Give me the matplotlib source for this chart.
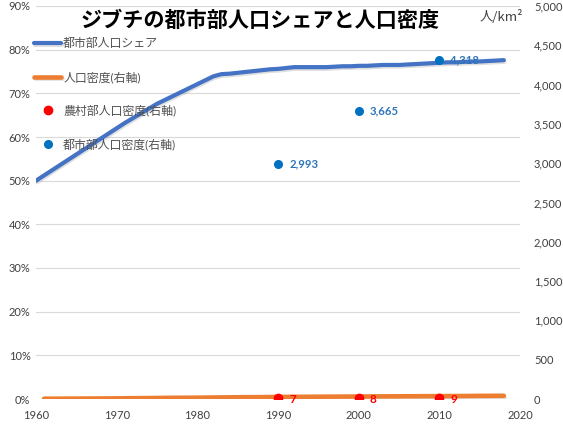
import matplotlib
matplotlib.use("Agg")
import matplotlib.pyplot as plt
import matplotlib.ticker as ticker
import matplotlib.patheffects as pe

plt.rcParams['font.family'] = ['Lato', 'Noto Sans CJK JP', 'DejaVu Sans']

# urban population share (%), 1960-2018
share_years = list(range(1960, 2019))
urban_share = [50.0, 51.2, 52.4, 53.6, 54.8, 56.0, 57.2, 58.4, 59.6, 60.8,
               62.0, 63.2, 64.3, 65.4, 66.5, 67.6, 68.5, 69.4, 70.3, 71.2,
               72.1, 73.0, 73.9, 74.4, 74.5, 74.7, 74.9, 75.1, 75.3, 75.5,
               75.6, 75.8, 76.0, 76.0, 76.0, 76.0, 76.0, 76.1, 76.2, 76.2,
               76.3, 76.3, 76.4, 76.5, 76.5, 76.5, 76.6, 76.7, 76.8, 76.9,
               77.0, 77.1, 77.1, 77.2, 77.3, 77.3, 77.4, 77.5, 77.6]

# population density (people/km2), 1961-2018
dens_years = list(range(1961, 2019))
density = [4, 4, 4, 5, 5, 6, 6, 7, 7, 8,
           9, 10, 11, 12, 13, 14, 15, 16, 16, 17,
           18, 19, 20, 21, 22, 23, 23, 24, 25, 26,
           27, 28, 28, 29, 29, 30, 30, 31, 31, 32,
           32, 33, 33, 34, 34, 35, 35, 36, 36, 37,
           37, 38, 38, 39, 40, 40, 41, 41]

# census points
census_years = [1990, 2000, 2010]
rural_density = [7, 8, 9]
urban_density = [2993, 3665, 4318]

fig = plt.figure(figsize=(5.63, 4.32), dpi=100)
ax = fig.add_axes([36 / 563, 33 / 432, 484 / 563, 393 / 432])
ax2 = ax.twinx()

shadow = [pe.SimpleLineShadow(offset=(0.5, -1.2), shadow_color='gray', alpha=0.25), pe.Normal()]

l1, = ax.plot(share_years, urban_share, color='#4472C4', lw=3, solid_capstyle='round',
              label='都市部人口シェア', path_effects=shadow, zorder=3)
l2, = ax2.plot(dens_years, density, color='#ED7D31', lw=3.3, solid_capstyle='round',
               label='人口密度(右軸)', path_effects=shadow, zorder=3)
s1, = ax2.plot(census_years, rural_density, 'o', color='#FF0000', ms=6,
               label='農村部人口密度(右軸)', zorder=4)
s2, = ax2.plot(census_years, urban_density, 'o', color='#0070C0', ms=5.5,
               label='都市部人口密度(右軸)', zorder=4)

for x, v in zip(census_years, rural_density):
    ax2.annotate(f'{v}', (x, v), xytext=(8, -1), textcoords='offset points',
                 color='#FF0000', fontsize=8.5, fontweight='bold', va='center', ha='left')
for x, v in zip(census_years, urban_density):
    ax2.annotate(f'{v:,}', (x, v), xytext=(8, 0), textcoords='offset points',
                 color='#2E75B6', fontsize=8.2, fontweight='bold', va='center', ha='left')

ax.set_xlim(1960, 2020)
ax.set_ylim(0, 90)
ax2.set_ylim(0, 5000)
ax.set_xticks(range(1960, 2021, 10))
ax.set_yticks(range(0, 91, 10))
ax2.set_yticks(range(0, 5001, 500))
ax.yaxis.set_major_formatter(ticker.FuncFormatter(lambda v, p: f'{v:.0f}%'))
ax2.yaxis.set_major_formatter(ticker.FuncFormatter(lambda v, p: f'{v:,.0f}'))

ax.grid(axis='y', color='#D9D9D9', lw=0.8)
ax.set_axisbelow(True)
for a in (ax, ax2):
    for s in a.spines.values():
        s.set_visible(False)
    a.tick_params(length=0, labelsize=8, colors='#404040')
ax.tick_params(axis='y', pad=4)
ax.tick_params(axis='x', pad=8)
ax2.tick_params(axis='y', pad=10)

leg = ax2.legend(handles=[l1, l2, s1, s2], loc='upper left',
                 bbox_to_anchor=(34 / 563, 1 - 38 / 432), bbox_transform=fig.transFigure,
                 frameon=False, fontsize=8.6, handlelength=2.3, handletextpad=0.15,
                 labelspacing=1.82, borderpad=0, borderaxespad=0)
for t in leg.get_texts():
    t.set_color('#505050')

fig.text(260 / 563, 1 - 20 / 432, 'ジブチの都市部人口シェアと人口密度', ha='center', va='center',
         fontsize=15.2, fontweight='bold', family=['Noto Sans CJK JP'], color='#000000')
fig.text(501 / 563, 1 - 17 / 432, '人/km²', ha='center', va='center',
         fontsize=9.5, color='#404040', family=['Noto Sans CJK JP', 'DejaVu Sans'])

fig.savefig('out.png', dpi=100)
